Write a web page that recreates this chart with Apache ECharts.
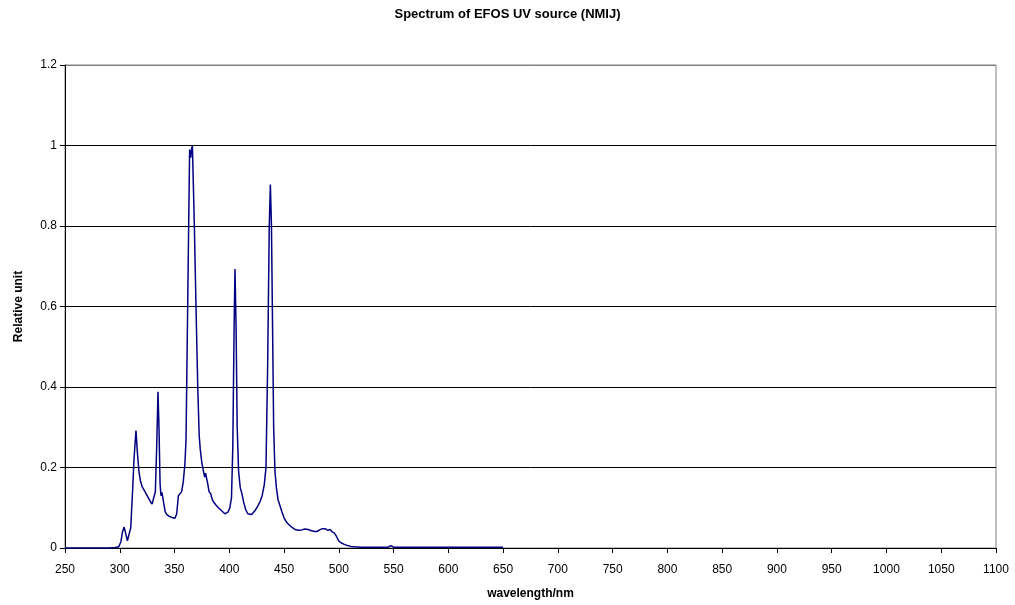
<!DOCTYPE html>
<html>
<head>
<meta charset="utf-8">
<title>Spectrum of EFOS UV source (NMIJ)</title>
<script src="https://cdn.jsdelivr.net/npm/echarts@6/dist/echarts.min.js"></script>
<style>
  html, body { margin: 0; padding: 0; background: #fff; }
  #chart { width: 1015px; height: 605px; }
</style>
</head>
<body>
<div id="chart"></div>
<script>
// wavelength (nm) and relative intensity
const wavelengths = [
  250, 260, 270, 280, 290, 296, 299, 301, 302.5, 304, 305.5, 307, 308.5, 310,
  311.5, 313, 314.8, 316, 317.5, 319, 320.5, 322, 324, 326, 328, 329.5, 331,
  332.5, 333.8, 334.9, 335.8, 336.8, 337.6, 338.5, 339.3, 340.2, 341.5, 343,
  345, 347.5, 350.4, 352, 353.5, 355, 356.5, 358, 359.5, 360.5, 361.1, 362,
  362.9, 363.8, 364.8, 365.5, 366.3, 367.2, 368.1, 369.6, 371.2, 372.5, 373.5,
  375, 376.5, 377.5, 378.3, 379.4, 380.3, 381.5, 383, 384.5, 386, 388, 390,
  392, 394, 396, 397.6, 399, 400.5, 402, 403.2, 404.4, 405.2, 406.2, 407.2,
  408.5, 410, 411.5, 413, 415, 417, 418.5, 420, 422, 424, 426, 428, 430, 432,
  433.5, 435, 436.5, 437.5, 438.5, 439.5, 440.5, 441.7, 443, 444.5, 446.3,
  448, 450, 452, 454, 456, 458, 460, 463, 466, 469, 472, 475, 478, 480,
  482.5, 485, 487.5, 490, 492, 494, 496, 498, 500, 502, 505, 508, 511, 515,
  520, 530, 540, 545, 547.5, 550, 560, 580, 600, 620, 640, 650
];
const relativeUnit = [
  0, 0, 0, 0, 0, 0.001, 0.003, 0.015, 0.04, 0.052, 0.035, 0.018, 0.02, 0.05,
  0.13, 0.22, 0.292, 0.24, 0.19, 0.165, 0.152, 0.145, 0.135, 0.125, 0.115, 0.109, 0.125,
  0.14, 0.26, 0.388, 0.3, 0.16, 0.13, 0.138, 0.134, 0.11, 0.09, 0.083,
  0.079, 0.076, 0.074, 0.085, 0.13, 0.134, 0.14, 0.165, 0.21, 0.27, 0.4, 0.6,
  0.8, 0.99, 0.97, 0.99, 1.0, 0.9, 0.8, 0.6, 0.4, 0.28, 0.245,
  0.21, 0.19, 0.176, 0.186, 0.184, 0.16, 0.14, 0.135, 0.12, 0.113, 0.106, 0.1,
  0.095, 0.09, 0.085, 0.089, 0.09, 0.1, 0.125, 0.25, 0.55, 0.693, 0.55, 0.3,
  0.19, 0.15, 0.135, 0.115, 0.095, 0.085, 0.082, 0.083, 0.088, 0.095, 0.104, 0.115, 0.13, 0.158,
  0.2, 0.45, 0.8, 0.903, 0.8, 0.55, 0.3, 0.19, 0.15, 0.12, 0.105,
  0.09, 0.075, 0.065, 0.059, 0.054, 0.05, 0.046, 0.044, 0.045, 0.047, 0.046, 0.043, 0.041, 0.041,
  0.045, 0.048, 0.048, 0.044, 0.046, 0.04, 0.037, 0.028, 0.017, 0.013, 0.009, 0.006, 0.004, 0.003,
  0.002, 0.002, 0.002, 0.002, 0.006, 0.002, 0.002, 0.002, 0.002, 0.002, 0.002, 0.002
];
const xTicks = { min: 250, max: 1100, step: 50 };
const yTicks = { min: 0, max: 1.2, step: 0.2 };

const chart = echarts.init(document.getElementById("chart"));
const font = "Liberation Sans, Arial, sans-serif";

chart.setOption({
  backgroundColor: "#ffffff",
  animation: false,
  title: {
    text: "Spectrum of EFOS UV source (NMIJ)",
    left: "center",
    top: 3,
    textStyle: { fontFamily: font, fontSize: 13, fontWeight: "bold", color: "#000" }
  },
  grid: {
    left: 65,
    right: 19,
    top: 65,
    bottom: 56,
    show: true,
    borderColor: "#808080",
    borderWidth: 1
  },
  xAxis: {
    type: "value",
    min: xTicks.min,
    max: xTicks.max,
    interval: xTicks.step,
    name: "wavelength/nm",
    nameLocation: "middle",
    nameGap: 40,
    nameTextStyle: { fontFamily: font, fontSize: 12, fontWeight: "bold", color: "#000" },
    axisLine: { lineStyle: { color: "#000", width: 1 } },
    axisTick: { show: true, length: 5, lineStyle: { color: "#000" } },
    axisLabel: {
      fontFamily: font, fontSize: 12, color: "#000", margin: 16,
      formatter: v => String(v)
    },
    splitLine: { show: false }
  },
  yAxis: {
    type: "value",
    min: yTicks.min,
    max: yTicks.max,
    interval: yTicks.step,
    name: "Relative unit",
    nameLocation: "middle",
    nameGap: 40,
    nameTextStyle: { fontFamily: font, fontSize: 12, fontWeight: "bold", color: "#000" },
    axisLine: { show: true, lineStyle: { color: "#000", width: 1 } },
    axisTick: { show: true, length: 5, lineStyle: { color: "#000" } },
    axisLabel: { fontFamily: font, fontSize: 12, color: "#000", margin: 8 },
    splitLine: {
      show: true,
      lineStyle: {
        color: ["#000", "#000", "#000", "#000", "#000", "#000", "#808080"],
        width: 1
      }
    }
  },
  series: [
    {
      type: "line",
      data: wavelengths.map((w, i) => [w, relativeUnit[i]]),
      showSymbol: false,
      smooth: false,
      lineStyle: { color: "#000080", width: 1.5 },
      itemStyle: { color: "#000080" }
    }
  ]
});
</script>
</body>
</html>
